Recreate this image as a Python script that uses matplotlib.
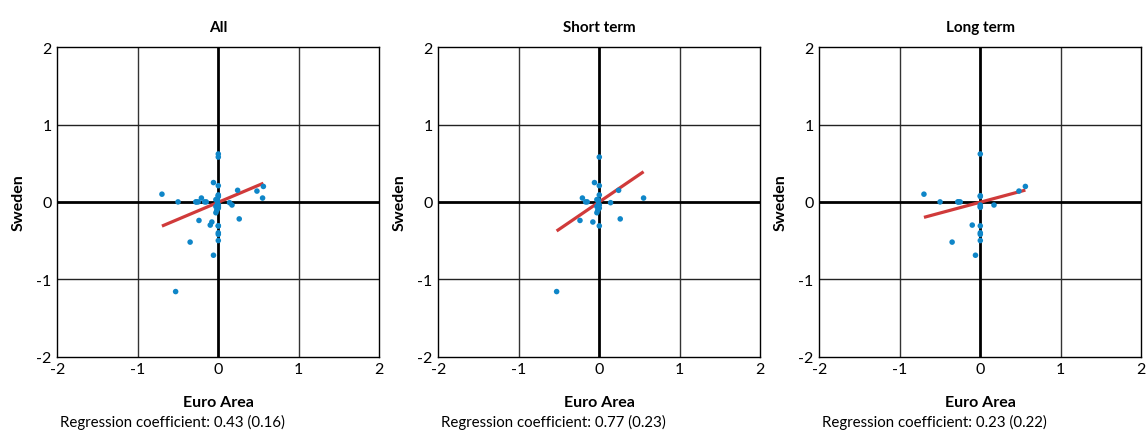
import matplotlib
matplotlib.use("Agg")
import matplotlib.pyplot as plt
import numpy as np

plt.rcParams['font.family'] = ['Lato', 'DejaVu Sans']

titles = ["All", "Short term", "Long term"]
coef_labels = ["Regression coefficient: 0.43 (0.16)",
               "Regression coefficient: 0.77 (0.23)",
               "Regression coefficient: 0.23 (0.22)"]

short_x = [0.0, -0.06, 0.0, 0.0, -0.21, -0.17, -0.15, -0.03, -0.01, 0.24, 0.55, 0.14,
           -0.01, -0.03, 0.0, -0.02, -0.03, 0.0, -0.24, -0.08, 0.26, 0.0, -0.53]
short_y = [0.58, 0.25, 0.21, 0.09, 0.05, 0.0, 0.0, 0.03, 0.02, 0.15, 0.05, -0.01,
           -0.02, -0.06, -0.08, -0.11, -0.14, -0.04, -0.24, -0.26, -0.22, -0.31, -1.16]

long_x = [0.0, -0.70, -0.50, -0.28, -0.25, -0.27, 0.0, 0.0, 0.0, 0.0, 0.0, 0.17,
          0.48, 0.56, -0.10, 0.0, 0.0, 0.0, 0.0, -0.35, -0.06]
long_y = [0.62, 0.10, 0.0, 0.0, 0.0, 0.0, 0.08, 0.07, -0.04, -0.07, -0.06, -0.04,
          0.14, 0.20, -0.30, -0.31, -0.40, -0.42, -0.50, -0.52, -0.69]

all_x = short_x + long_x
all_y = short_y + long_y

line_slopes = [0.44, 0.71, 0.28]
line_intercepts = [-0.005, 0.0, -0.004]

xs = [all_x, short_x, long_x]
ys = [all_y, short_y, long_y]

W, H = 1147, 431
fig = plt.figure(figsize=(W / 100, H / 100), dpi=100)

lefts = [57.3, 438.3, 819.3]
ax_w = 322.0
top = 48.3
bottom = 357.5

dot_color = "#0f86c8"
line_color = "#d03a3a"

for i in range(3):
    ax = fig.add_axes([lefts[i] / W, 1 - bottom / H, ax_w / W, (bottom - top) / H])
    ax.set_xlim(-2, 2)
    ax.set_ylim(-2, 2)
    for v in (-1, 1):
        ax.axvline(v, color="#333333", lw=1.0, zorder=1)
        ax.axhline(v, color="#222222", lw=1.0, zorder=1)
    ax.axvline(0, color="black", lw=2.0, zorder=2)
    ax.axhline(0, color="black", lw=2.0, zorder=2)
    x = np.array(xs[i])
    y = np.array(ys[i])
    lx = np.array([x.min(), x.max()])
    ly = line_slopes[i] * lx + line_intercepts[i]
    ax.plot(lx, ly, color=line_color, lw=2.3, zorder=3, solid_capstyle="butt")
    ax.scatter(x, y, s=16, color=dot_color, edgecolors="none", zorder=4)
    ax.set_xticks([-2, -1, 0, 1, 2])
    ax.set_yticks([-2, -1, 0, 1, 2])
    ax.set_xticklabels(["-2", "-1", "0", "1", "2"])
    ax.set_yticklabels(["-2", "-1", "0", "1", "2"])
    ax.tick_params(length=0, labelsize=11.5, pad=4)
    for sp in ax.spines.values():
        sp.set_color("black")
        sp.set_linewidth(1.0)
    ax.set_title(titles[i], fontsize=11, fontweight="bold", pad=12)
    ax.set_xlabel("Euro Area", fontsize=11.5, fontweight="bold", labelpad=14)
    ax.set_ylabel("Sweden", fontsize=11.5, fontweight="bold", labelpad=8)
    fig.text((lefts[i] + 3) / W, 1 - 422 / H, coef_labels[i], fontsize=10.8,
             ha="left", va="center")

fig.savefig("out.png", dpi=100)
